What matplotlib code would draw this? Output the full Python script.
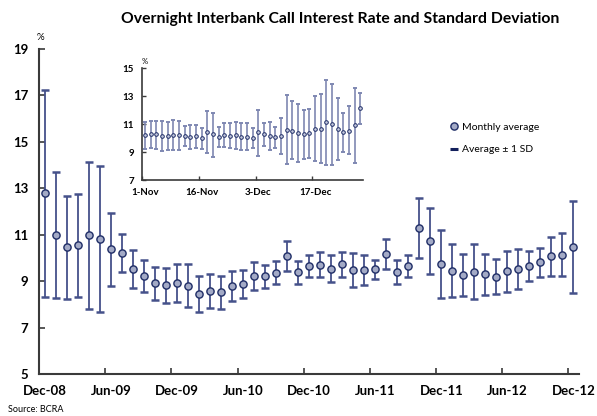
import matplotlib
matplotlib.use("Agg")
import matplotlib.pyplot as plt
from matplotlib.lines import Line2D
import numpy as np

plt.rcParams['font.family'] = ['Lato', 'DejaVu Sans']

# ---- Main chart data (monthly, Dec-08 .. Dec-12) ----
monthly_mean = [12.78, 11.00, 10.45, 10.54, 10.97, 10.81, 10.37, 10.20, 9.54, 9.21,
                8.91, 8.82, 8.91, 8.81, 8.43, 8.58, 8.54, 8.79, 8.88, 9.21,
                9.21, 9.37, 10.10, 9.38, 9.64, 9.70, 9.52, 9.72, 9.48, 9.48,
                9.52, 10.17, 9.38, 9.65, 11.29, 10.74, 9.72, 9.45, 9.27, 9.41,
                9.29, 9.19, 9.42, 9.52, 9.67, 9.81, 10.08, 10.14, 10.48]
monthly_upper = [17.25, 13.70, 12.68, 12.75, 14.15, 13.97, 11.95, 11.01, 10.35, 9.91,
                 9.62, 9.55, 9.72, 9.72, 9.22, 9.32, 9.24, 9.44, 9.46, 9.81,
                 9.71, 9.85, 10.74, 9.87, 10.11, 10.24, 10.14, 10.26, 10.21, 10.11,
                 9.92, 10.83, 9.89, 10.14, 12.58, 12.17, 11.19, 10.60, 10.15, 10.58,
                 10.17, 9.95, 10.31, 10.37, 10.32, 10.42, 10.91, 11.09, 12.46]
monthly_lower = [8.30, 8.29, 8.23, 8.33, 7.80, 7.69, 8.81, 9.40, 8.69, 8.52,
                 8.19, 8.08, 8.09, 7.89, 7.65, 7.83, 7.82, 8.15, 8.28, 8.62,
                 8.69, 8.88, 9.45, 8.86, 9.16, 9.16, 8.97, 9.19, 8.75, 8.84,
                 9.11, 9.51, 8.86, 9.16, 10.00, 9.31, 8.28, 8.30, 8.38, 8.23,
                 8.42, 8.43, 8.54, 8.68, 9.01, 9.19, 9.22, 9.21, 8.51]
main_tick_labels = ['Dec-08', 'Jun-09', 'Dec-09', 'Jun-10', 'Dec-10',
                    'Jun-11', 'Dec-11', 'Jun-12', 'Dec-12']
main_yticks = [5, 7, 9, 11, 13, 15, 17, 19]

# ---- Inset data (daily, 1-Nov .. end Dec) ----
daily_mean = [10.20, 10.30, 10.27, 10.15, 10.15, 10.22, 10.20, 10.18, 10.08, 10.13,
              9.99, 10.44, 10.27, 10.08, 10.22, 10.15, 10.20, 10.08, 10.10, 9.99,
              10.41, 10.27, 10.13, 10.06, 10.15, 10.61, 10.53, 10.37, 10.30, 10.37,
              10.66, 10.68, 11.16, 11.01, 10.66, 10.41, 10.51, 10.92, 12.13]
daily_upper = [11.16, 11.25, 11.25, 11.25, 11.18, 11.32, 11.20, 10.89, 10.92, 10.96,
               10.75, 11.94, 11.82, 10.82, 11.11, 11.06, 11.13, 11.06, 11.06, 10.75,
               11.99, 11.06, 11.16, 10.82, 11.42, 13.09, 12.68, 12.42, 11.99, 12.11,
               13.00, 13.19, 14.16, 13.90, 12.85, 11.82, 12.28, 13.57, 13.26]
daily_lower = [9.24, 9.29, 9.24, 9.08, 9.15, 9.15, 9.15, 9.46, 9.24, 9.29,
               9.20, 8.93, 8.67, 9.34, 9.34, 9.27, 9.22, 9.15, 9.15, 9.28,
               8.75, 9.46, 9.13, 9.29, 8.86, 8.15, 8.48, 8.28, 8.53, 8.60,
               8.36, 8.19, 8.10, 8.07, 8.46, 8.98, 8.86, 8.24, 11.01]
inset_tick_labels = ['1-Nov', '16-Nov', '3-Dec', '17-Dec']
inset_yticks = [7, 9, 11, 13, 15]

title = 'Overnight Interbank Call Interest Rate and Standard Deviation'
legend_labels = ['Monthly average', 'Average \u00b1 1 SD']
source = 'Source: BCRA'

LINE = '#45518a'
CAP = '#13205c'
FACE = '#a3aac6'
EDGE = '#1f2d66'
SPINE = '#3a3a3a'

fig = plt.figure(figsize=(5.97, 4.16), dpi=100)

# ---- main axes ----
ax = fig.add_axes([39.3 / 597, 1 - 374 / 416, (579 - 39.3) / 597, (374 - 49) / 416])
x = np.arange(len(monthly_mean))
mm = np.array(monthly_mean)
yerr = [mm - np.array(monthly_lower), np.array(monthly_upper) - mm]
eb = ax.errorbar(x, mm, yerr=yerr, fmt='none', ecolor=LINE, elinewidth=1.3,
                 capsize=3.0, capthick=1.8, zorder=2)
for c in eb[1]:
    c.set_color(CAP)
ax.plot(x, mm, 'o', ms=5.2, mfc=FACE, mec=EDGE, mew=1.0, ls='none', zorder=3)

ax.set_xlim(-0.5, len(monthly_mean) - 0.5)
ax.set_ylim(5, 19)
ax.set_yticks(main_yticks)
ax.set_yticklabels([str(v) for v in main_yticks], fontsize=9.5, fontweight='bold')
ax.set_xticks(np.arange(0, len(monthly_mean), 6))
ax.set_xticklabels(main_tick_labels, fontsize=9.5, fontweight='bold')
ax.set_xticks(np.arange(-0.5, len(monthly_mean), 6), minor=True)
ax.tick_params(axis='x', which='major', length=0, pad=8)
ax.tick_params(axis='x', which='minor', direction='in', length=4, width=1.2, color=SPINE)
ax.tick_params(axis='y', direction='in', length=4, width=1.2, color=SPINE, pad=8)
for s in ['top', 'right']:
    ax.spines[s].set_visible(False)
for s in ['left', 'bottom']:
    ax.spines[s].set_color(SPINE)
    ax.spines[s].set_linewidth(1.5)

fig.text(40 / 597, 1 - 37 / 416, '%', fontsize=7, ha='center', va='center')

handles = [Line2D([], [], marker='o', ls='none', ms=5.2, mfc=FACE, mec=EDGE, mew=1.0),
           Line2D([], [], marker='_', ls='none', ms=6, mew=2.2, color=CAP)]
fig.legend(handles, legend_labels, loc='upper left',
           bbox_to_anchor=(440 / 597, 1 - 113 / 416), frameon=False,
           fontsize=7.5, handlelength=0.8, handletextpad=0.4, labelspacing=1.3)

# ---- inset ----
ai = fig.add_axes([142.3 / 597, 1 - 180 / 416, (363.2 - 142.3) / 597, (180 - 68.3) / 416])
xi = np.arange(len(daily_mean))
dm = np.array(daily_mean)
yerr_i = [dm - np.array(daily_lower), np.array(daily_upper) - dm]
ebi = ai.errorbar(xi, dm, yerr=yerr_i, fmt='none', ecolor='#7f88b2', elinewidth=1.2,
                  capsize=1.4, capthick=1.4, zorder=2)
for c in ebi[1]:
    c.set_color(CAP)
ai.plot(xi, dm, 'o', ms=2.6, mfc='#c5cadf', mec=EDGE, mew=0.7, ls='none', zorder=3)
ai.set_xlim(-0.5, len(daily_mean) - 0.5)
ai.set_ylim(7, 15)
ai.set_yticks(inset_yticks)
ai.set_yticklabels([str(v) for v in inset_yticks], fontsize=7, fontweight='bold')
ai.set_xticks([0, 10, 20, 30])
ai.set_xticklabels(inset_tick_labels, fontsize=7, fontweight='bold')
ai.set_xticks([-0.5, 9.5, 19.5, 29.5], minor=True)
ai.tick_params(axis='x', which='major', length=0, pad=6)
ai.tick_params(axis='x', which='minor', direction='in', length=3, width=1.0, color=SPINE)
ai.tick_params(axis='y', direction='in', length=3, width=1.0, color=SPINE, pad=6)
ai.patch.set_alpha(0)
for s in ['top', 'right']:
    ai.spines[s].set_visible(False)
for s in ['left', 'bottom']:
    ai.spines[s].set_color(SPINE)
    ai.spines[s].set_linewidth(1.2)
fig.text(145 / 597, 1 - 61.5 / 416, '%', fontsize=5.5, ha='center', va='center')

fig.text(340 / 597, 1 - 19 / 416, title, fontsize=11.3, fontweight='bold',
         ha='center', va='center')
fig.text(8 / 597, 1 - 409 / 416, source, fontsize=6.5, ha='left', va='center')

fig.savefig('out.png', dpi=100)
